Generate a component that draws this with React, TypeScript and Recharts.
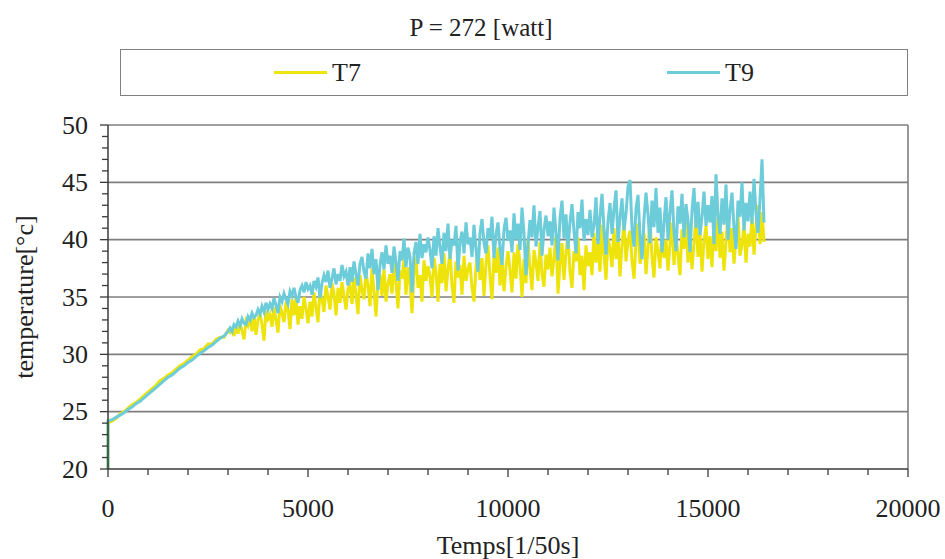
import React from 'react';
import { LineChart, Line, XAxis, YAxis, ReferenceLine, Legend, Label } from 'recharts';

// Temperatures.
// Start reading (t = 0) is 20 °C for both probes.
const START_VALUE = 20.0;

// Warm-up phase: one reading every 100 units from t = 0 to t = 3000
const T7_EARLY = [
  24.0, 24.2, 24.4, 24.8, 25.0, 25.3, 25.6, 25.8, 26.1, 26.4,
  26.7, 27.0, 27.3, 27.7, 27.9, 28.2, 28.4, 28.7, 29.0, 29.2,
  29.5, 29.8, 30.0, 30.4, 30.5, 30.9, 30.9, 31.3, 31.5, 31.5,
  32.1,
];
const T9_EARLY = [
  24.2, 24.3, 24.5, 24.7, 24.9, 25.2, 25.4, 25.7, 25.9, 26.2,
  26.5, 26.8, 27.1, 27.4, 27.7, 28.0, 28.2, 28.5, 28.8, 29.0,
  29.3, 29.5, 29.8, 30.1, 30.3, 30.6, 30.8, 31.1, 31.4, 31.6,
  32.0,
];

// Noisy phase: one reading every 50 units from t = 3050 to t = 16400
const T7_LATE = [
  31.9, 32.2, 31.6, 32.4, 31.8, 32.7, 32.1, 31.3, 32.9, 32.5, 33.2, 32.0, 33.4, 31.7, 33.0, 33.6, 32.6, 31.2, 33.8, 33.1,
  33.5, 32.4, 34.1, 33.0, 31.9, 34.3, 33.6, 32.8, 34.6, 33.9, 32.2, 34.8, 33.4, 35.0, 32.6, 34.2, 33.1, 35.0, 34.0, 32.7,
  34.6, 33.3, 35.4, 34.1, 32.8, 35.6, 34.8, 33.7, 36.0, 35.0, 33.9, 36.2, 35.3, 33.4, 35.8, 34.5, 36.3, 35.1, 33.9, 35.7,
  36.1, 34.4, 36.7, 35.2, 33.5, 36.9, 35.6, 34.8, 37.2, 36.0, 34.2, 37.5, 35.5, 33.3, 36.4, 37.0, 35.1, 37.4, 34.6, 36.2,
  37.0, 35.3, 38.0, 36.3, 34.0, 37.3, 36.6, 38.3, 35.2, 37.6, 36.1, 33.6, 37.1, 38.5, 35.8, 36.9, 34.6, 38.2, 36.4, 37.7,
  36.8, 35.0, 38.4, 37.2, 34.6, 37.9, 36.2, 38.8, 35.5, 37.4, 39.0, 36.0, 34.5, 38.1, 36.7, 37.8, 35.2, 38.6, 36.4, 37.5,
  38.0, 35.8, 34.6, 37.6, 39.2, 36.5, 38.4, 35.1, 37.9, 39.5, 36.8, 34.8, 38.6, 37.1, 39.3, 36.0, 38.2, 35.5, 37.7, 39.0,
  37.3, 35.4, 38.9, 36.6, 39.6, 37.8, 35.0, 38.3, 36.2, 40.0, 37.5, 35.6, 39.1, 38.0, 36.4, 39.8, 37.0, 35.9, 38.7, 37.4,
  39.3, 36.8, 38.4, 40.3, 35.3, 37.9, 39.7, 36.5, 38.9, 40.5, 37.2, 35.8, 39.0, 38.1, 40.2, 36.9, 38.6, 35.6, 39.5, 37.7,
  38.9, 36.9, 40.6, 38.0, 39.8, 37.2, 41.3, 38.6, 36.5, 40.1, 39.2, 37.6, 41.0, 38.3, 40.4, 36.8, 39.5, 41.5, 38.1, 39.9,
  40.8, 38.2, 36.6, 39.7, 41.4, 37.9, 38.8, 40.6, 37.0, 39.3, 41.8, 38.5, 36.7, 40.2, 39.0, 37.5, 41.1, 38.4, 40.0, 37.3,
  39.6, 41.5, 37.8, 40.4, 38.7, 36.9, 40.9, 39.2, 41.9, 38.0, 40.1, 37.4, 39.7, 42.0, 38.5, 40.6, 37.2, 39.9, 41.2, 38.3,
  40.3, 37.6, 41.6, 39.0, 42.2, 38.4, 40.7, 37.3, 39.8, 42.5, 38.9, 41.0, 37.9, 40.2, 42.1, 38.6, 39.5, 41.3, 38.0, 40.5,
  39.4, 42.0, 38.7, 41.2, 43.0, 39.6, 42.4, 39.8,
];
const T9_LATE = [
  32.3, 32.0, 32.6, 32.4, 32.9, 32.5, 33.1, 32.7, 32.6, 33.3, 33.0, 33.6, 33.2, 33.4, 33.9, 33.5, 34.2, 33.7, 34.5, 33.9,
  34.4, 34.0, 34.9, 34.3, 33.6, 35.0, 34.6, 35.3, 34.8, 34.4, 35.5, 35.1, 35.8, 35.0, 34.5, 35.6, 36.0, 35.4, 36.3, 35.7,
  36.0, 35.2, 36.4, 35.9, 36.7, 34.9, 36.2, 36.9, 36.3, 37.3, 35.8, 36.6, 37.5, 36.1, 37.0, 36.4, 37.8, 36.8, 37.2, 36.0,
  37.6, 36.3, 38.1, 37.0, 36.0, 37.9, 38.5, 37.2, 36.6, 38.8, 37.5, 39.2, 37.0, 38.3, 35.6, 37.8, 38.9, 37.4, 39.5, 37.9,
  38.6, 37.1, 39.4, 38.0, 36.4, 39.0, 38.2, 40.1, 37.6, 39.3, 38.5, 35.4, 38.8, 39.8, 37.9, 40.5, 38.4, 39.6, 38.9, 40.2,
  39.1, 37.5, 40.3, 38.6, 41.0, 39.4, 37.9, 40.6, 39.0, 41.4, 38.3, 40.0, 39.5, 41.2, 37.3, 39.8, 40.7, 38.8, 41.5, 39.6,
  40.2, 38.5, 41.3, 39.2, 37.2, 40.6, 41.8, 39.7, 38.8, 41.0, 40.1, 42.0, 38.4, 40.4, 41.5, 39.3, 37.8, 40.9, 41.9, 39.9,
  40.8, 38.9, 42.3, 40.0, 41.4, 39.1, 42.8, 40.5, 36.9, 39.6, 41.7, 40.2, 43.0, 39.4, 41.1, 42.5, 38.6, 40.9, 42.1, 40.3,
  41.6, 39.5, 42.8, 40.6, 38.2, 41.9, 43.4, 40.1, 42.2, 39.2, 41.5, 43.1, 40.7, 38.8, 42.4, 41.0, 43.5, 39.9, 41.8, 40.4,
  42.6, 40.2, 41.3, 43.7, 39.6, 42.0, 44.0, 40.9, 38.7, 41.6, 43.2, 40.5, 42.7, 44.3, 39.8, 41.9, 43.6, 40.8, 42.3, 44.6,
  45.2, 41.0, 39.4, 42.7, 43.9, 40.3, 38.3, 41.8, 44.1, 42.2, 39.7, 43.4, 41.1, 44.5, 40.6, 42.8, 38.9, 41.5, 43.7, 40.0,
  42.4, 44.3, 40.7, 39.0, 42.9, 41.4, 44.0, 40.2, 43.1, 41.7, 38.9, 42.5, 44.5, 41.0, 43.3, 40.4, 42.0, 44.2, 41.2, 43.0,
  41.5, 43.8, 39.6, 45.7, 42.1, 40.5, 43.6, 41.3, 44.8, 40.0, 42.6, 44.1, 41.0, 39.2, 43.4, 42.0, 45.0, 40.8, 43.2, 41.6,
  44.2, 41.4, 45.3, 42.3, 40.6, 43.5, 47.0, 41.5,
];

const EARLY_STEP = 100;
const LATE_START = 3050;
const LATE_STEP = 50;

const X_TICKS = [0, 1000, 2000, 3000, 4000, 5000, 6000, 7000, 8000, 9000, 10000,
  11000, 12000, 13000, 14000, 15000, 16000, 17000, 18000, 19000, 20000];
const Y_TICKS = [20, 21, 22, 23, 24, 25, 26, 27, 28, 29, 30, 31, 32, 33, 34, 35,
  36, 37, 38, 39, 40, 41, 42, 43, 44, 45, 46, 47, 48, 49, 50];
const Y_GRID = [25, 30, 35, 40, 45, 50];

const TITLE = 'P = 272 [watt]';
const X_LABEL = 'Temps[1/50s]';
const Y_LABEL = 'temperature[°c]';

const data = [
  { t: 0, T7: START_VALUE, T9: START_VALUE },
  ...T9_EARLY.map((v, i) => ({ t: i * EARLY_STEP, T7: T7_EARLY[i], T9: v })),
  ...T9_LATE.map((v, i) => ({ t: LATE_START + i * LATE_STEP, T7: T7_LATE[i], T9: v })),
];

const FONT = "'Liberation Serif', 'DejaVu Serif', 'Times New Roman', serif";
const AXIS_COLOR = '#3a3a3a';
const GRID_COLOR = '#7f7f7f';
const C_T7 = '#EEE40C';
const C_T9 = '#6CCCDA';

const TS = 8;
const YM = 12;
const XM = 22;

const YTick = (props: any) => {
  const { x, y, payload } = props;
  const v = payload.value;
  const major = v % 5 === 0;
  const ax = x + TS + YM;
  return (
    <g>
      <line x1={ax} x2={ax - (major ? 8 : 6)} y1={y} y2={y} stroke={AXIS_COLOR} strokeWidth={1.3} />
      {major && (
        <text x={x} y={y} textAnchor="end" dominantBaseline="central" fontFamily={FONT} fontSize={26} fill="#222">
          {v}
        </text>
      )}
    </g>
  );
};

const XTick = (props: any) => {
  const { x, y, payload } = props;
  const v = payload.value;
  const major = v % 5000 === 0;
  const ay = y - TS - XM;
  return (
    <g>
      <line x1={x} x2={x} y1={ay} y2={ay + (major ? 8 : 6)} stroke={AXIS_COLOR} strokeWidth={1.3} />
      {major && (
        <text x={x} y={y} textAnchor="middle" dominantBaseline="hanging" fontFamily={FONT} fontSize={26} fill="#222">
          {v}
        </text>
      )}
    </g>
  );
};

const LegendBox = () => (
  <div
    style={{
      boxSizing: 'border-box',
      width: 788,
      height: 47,
      border: '1.5px solid #808080',
      display: 'flex',
      fontFamily: FONT,
      fontSize: 26,
      color: '#222',
    }}
  >
    {[
      { name: 'T7', color: C_T7 },
      { name: 'T9', color: C_T9 },
    ].map((it) => (
      <div key={it.name} style={{ flex: 1, display: 'flex', alignItems: 'center', justifyContent: 'center' }}>
        <div style={{ width: 53, height: 3, background: it.color, marginRight: 5 }} />
        <span>{it.name}</span>
      </div>
    ))}
  </div>
);

export default function App() {
  return (
    <div style={{ position: 'absolute', left: 0, top: 0, width: 945, height: 559, background: '#fff' }}>
      <div
        style={{
          position: 'absolute',
          top: 13,
          left: 0,
          width: 962,
          textAlign: 'center',
          fontFamily: FONT,
          fontSize: 25,
          lineHeight: '30px',
          color: '#222',
        }}
      >
        {TITLE}
      </div>
      <LineChart width={945} height={559} data={data} margin={{ top: 125, right: 37, bottom: 0, left: 0 }}>
        <Legend
          layout="horizontal"
          verticalAlign="middle"
          align="center"
          content={<LegendBox />}
          wrapperStyle={{ position: 'absolute', top: 49, left: 120, width: 788, height: 47 }}
        />
        {Y_GRID.map((v) => (
          <ReferenceLine key={v} y={v} stroke={GRID_COLOR} strokeWidth={1.6} />
        ))}
        <ReferenceLine x={20000} stroke={GRID_COLOR} strokeWidth={1.6} />
        <XAxis
          dataKey="t"
          type="number"
          domain={[0, 20000]}
          ticks={X_TICKS}
          interval={0}
          height={90}
          tickSize={TS}
          tickMargin={XM}
          tickLine={false}
          tick={<XTick />}
          axisLine={{ stroke: AXIS_COLOR, strokeWidth: 1.5 }}
        >
          <Label value={X_LABEL} position="center" dy={31} style={{ fontFamily: FONT, fontSize: 26, fill: '#222' }} />
        </XAxis>
        <YAxis
          type="number"
          domain={[20, 50]}
          ticks={Y_TICKS}
          interval={0}
          width={108}
          tickSize={TS}
          tickMargin={YM}
          tickLine={false}
          tick={<YTick />}
          axisLine={{ stroke: AXIS_COLOR, strokeWidth: 1.5 }}
        >
          <Label value={Y_LABEL} angle={-90} position="center" dx={-30} style={{ fontFamily: FONT, fontSize: 26, fill: '#222' }} />
        </YAxis>
        <Line type="linear" dataKey="T7" stroke={C_T7} strokeWidth={3} strokeLinejoin="miter" dot={false} isAnimationActive={false} />
        <Line type="linear" dataKey="T9" stroke={C_T9} strokeWidth={3} strokeLinejoin="miter" dot={false} isAnimationActive={false} />
      </LineChart>
    </div>
  );
}
